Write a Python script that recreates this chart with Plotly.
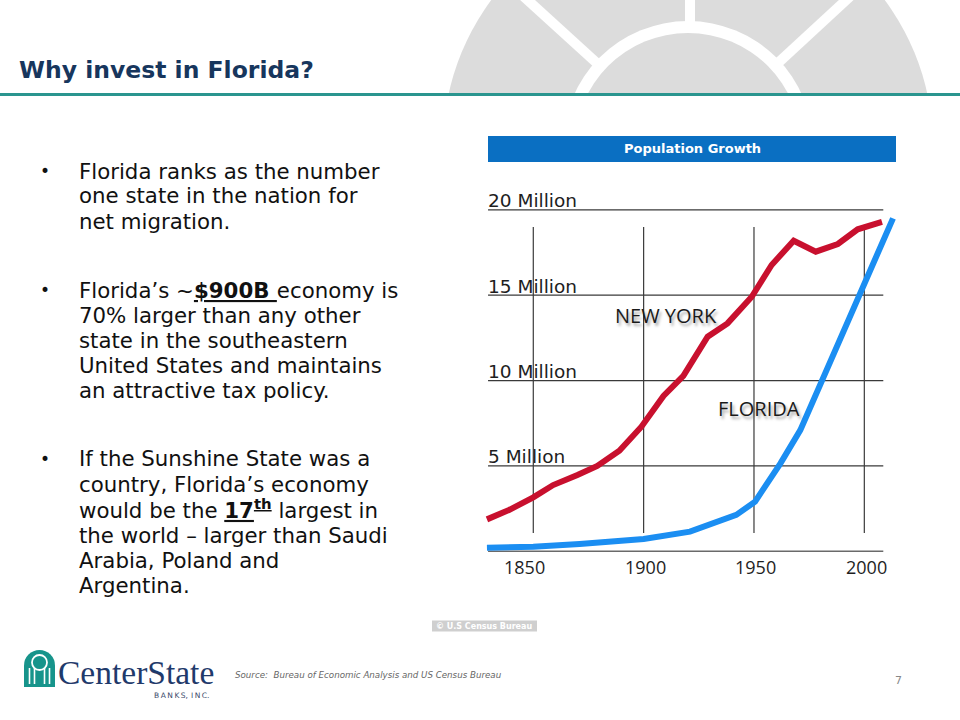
import math
import plotly.graph_objects as go

W, H = 960, 720


def X(px):
    return px / W


def Y(py):
    return 1 - py / H


# ---------------- data ----------------
NY_YEARS = [1829, 1839, 1850, 1859, 1870, 1879, 1889, 1899, 1909, 1918,
            1929, 1938, 1949, 1958, 1968, 1978, 1988, 1997, 2008]
NY_POP = [1.87, 2.42, 3.16, 3.88, 4.47, 5.00, 5.89, 7.30, 9.10, 10.28,
          12.57, 13.35, 14.91, 16.77, 18.19, 17.55, 18.00, 18.86, 19.30]

FL_YEARS = [1829, 1850, 1871, 1900, 1921, 1942, 1950.5, 1962, 1971, 2013]
FL_POP = [0.21, 0.27, 0.43, 0.72, 1.15, 2.13, 2.91, 5.15, 7.10, 19.50]

GRID_MILLIONS = [5, 10, 15, 20]
GRID_LABELS = ["5 Million", "10 Million", "15 Million", "20 Million"]
DECADE_TICKS = [1850, 1900, 1950, 2000]
DECADE_LABELS = ["1850", "1900", "1950", "2000"]

CHART_TITLE = "Population Growth"
SLIDE_TITLE = "Why invest in Florida?"
BULLETS = [
    ["Florida ranks as the number", "one state in the nation for", "net migration."],
    ["Florida\u2019s ~<b><u>$900B </u></b>economy is", "70% larger than any other",
     "state in the southeastern", "United States and maintains", "an attractive tax policy."],
    ["If the Sunshine State was a", "country, Florida\u2019s economy",
     "would be the <b><u>17<sup>th</sup></u></b> largest in",
     "the world \u2013 larger than Saudi", "Arabia, Poland and", "Argentina."],
]
BULLET_Y = [[171, 196, 221], [290, 315, 340, 365, 390], [459, 484, 509, 535, 560, 585]]

RED = "#c8102e"
BLUE = "#1b8ef2"
GREY_DECO = "#dcdcdc"
TEAL = "#2a958f"

# ---------------- figure ----------------
fig = go.Figure()
fig.add_trace(go.Scatter(x=NY_YEARS, y=NY_POP, mode="lines",
                         line=dict(color=RED, width=6), name="New York",
                         hoverinfo="skip"))
fig.add_trace(go.Scatter(x=FL_YEARS, y=FL_POP, mode="lines",
                         line=dict(color=BLUE, width=6), name="Florida",
                         hoverinfo="skip"))

shapes = []
annots = []

# --- sun decoration at top right ---
cx, cy = 688, 146


def circ(r, color):
    return dict(type="circle", xref="paper", yref="paper",
                x0=X(cx - r), x1=X(cx + r), y0=Y(cy + r), y1=Y(cy - r),
                fillcolor=color, line=dict(width=0), layer="below")


shapes.append(circ(245, GREY_DECO))
shapes.append(circ(125, "white"))
shapes.append(circ(113, GREY_DECO))
for ang in (90, 137.7, 42.7):
    ux, uy = math.cos(math.radians(ang)), -math.sin(math.radians(ang))
    off = 2 if ang == 90 else 0
    shapes.append(dict(type="line", xref="paper", yref="paper",
                       x0=X(cx + 118 * ux + off), y0=Y(cy + 118 * uy),
                       x1=X(cx + 300 * ux + off), y1=Y(cy + 300 * uy),
                       line=dict(color="white", width=10), layer="below"))
# white cover below the header line
shapes.append(dict(type="rect", xref="paper", yref="paper", x0=0, x1=1,
                   y0=0, y1=Y(93), fillcolor="white", line=dict(width=0), layer="below"))
# teal header rule
shapes.append(dict(type="rect", xref="paper", yref="paper", x0=0, x1=1,
                   y0=Y(96), y1=Y(93), fillcolor=TEAL, line=dict(width=0), layer="below"))

# --- chart banner ---
shapes.append(dict(type="rect", xref="paper", yref="paper", x0=X(488), x1=X(896),
                   y0=Y(162), y1=Y(136), fillcolor="#0a6fc2", line=dict(width=0),
                   layer="below"))
annots.append(dict(x=X(692), y=Y(149), xref="paper", yref="paper", text="<b>" + CHART_TITLE + "</b>",
                   showarrow=False, xanchor="center", yanchor="middle",
                   font=dict(family="DejaVu Sans", size=13, color="white")))

# --- chart grid ---
GX0, GX1 = 1829.5, 2008.6
for v in GRID_MILLIONS:
    shapes.append(dict(type="line", xref="x", yref="y", x0=GX0, x1=GX1, y0=v, y1=v,
                       line=dict(color="#3a3a3a", width=1.2), layer="below"))
shapes.append(dict(type="line", xref="x", yref="y", x0=GX0, x1=GX1, y0=0, y1=0,
                   line=dict(color="#6a6a6a", width=1.6), layer="below"))
for t in DECADE_TICKS:
    shapes.append(dict(type="line", xref="x", yref="y", x0=t, x1=t, y0=1.07, y1=19.0,
                       line=dict(color="#3a3a3a", width=1.2), layer="below"))

MIL_FONT = dict(family="DejaVu Sans", size=18.5, color="#1e1e1e")
YR_FONT = dict(family="Open Sans", size=18, color="#1e1e1e")
for v, lab in zip(GRID_MILLIONS, GRID_LABELS):
    annots.append(dict(x=X(486), y=v, xref="paper", yref="y", text=lab, showarrow=False,
                       xanchor="left", yanchor="middle", yshift=9, font=MIL_FONT))
for t, lab in zip(DECADE_TICKS, DECADE_LABELS):
    annots.append(dict(x=t, y=Y(567), xref="x", yref="paper", text=lab, showarrow=False,
                       xanchor="center", yanchor="middle",
                       xshift=-9 if t == 1850 else 2, font=YR_FONT))

SHADOW = "2px 3px 3px rgba(0,0,0,0.35)"
annots.append(dict(x=X(666), y=Y(315), xref="paper", yref="paper", text="NEW YORK",
                   showarrow=False, xanchor="center", yanchor="middle",
                   font=dict(family="Open Sans", size=20, color="#1a1a1a", shadow=SHADOW)))
annots.append(dict(x=X(759), y=Y(408), xref="paper", yref="paper", text="FLORIDA",
                   showarrow=False, xanchor="center", yanchor="middle",
                   font=dict(family="Open Sans", size=20, color="#1a1a1a", shadow=SHADOW)))

# credit label
shapes.append(dict(type="rect", xref="paper", yref="paper", x0=X(432), x1=X(537),
                   y0=Y(631.5), y1=Y(620.5), fillcolor="#cfcfcf", line=dict(width=0),
                   layer="below"))
annots.append(dict(x=X(484.5), y=Y(626), xref="paper", yref="paper",
                   text="<b>\u00a9 U.S Census Bureau</b>", showarrow=False,
                   xanchor="center", yanchor="middle",
                   font=dict(family="DejaVu Sans", size=8, color="white")))

# --- slide title ---
annots.append(dict(x=X(17), y=Y(70), xref="paper", yref="paper", text="<b>" + SLIDE_TITLE + "</b>",
                   showarrow=False, xanchor="left", yanchor="middle",
                   font=dict(family="DejaVu Sans", size=23.5, color="#17365d")))

# --- bullets ---
BFONT = dict(family="DejaVu Sans", size=21.3, color="#111111")
for lines, ys in zip(BULLETS, BULLET_Y):
    annots.append(dict(x=X(45), y=Y(ys[0]), xref="paper", yref="paper", text="\u2022",
                       showarrow=False, xanchor="center", yanchor="middle",
                       font=dict(family="DejaVu Sans", size=17, color="#111111")))
    for line, yy in zip(lines, ys):
        annots.append(dict(x=X(77), y=Y(yy), xref="paper", yref="paper", text=line,
                           showarrow=False, xanchor="left", yanchor="middle", font=BFONT))

# --- footer: logo ---
LOGO = "#17948b"
shapes.append(dict(type="circle", xref="paper", yref="paper", x0=X(24), x1=X(55),
                   y0=Y(681), y1=Y(650), fillcolor=LOGO, line=dict(width=0), layer="below"))
shapes.append(dict(type="rect", xref="paper", yref="paper", x0=X(24), x1=X(55),
                   y0=Y(687), y1=Y(666), fillcolor=LOGO, line=dict(width=0), layer="below"))
shapes.append(dict(type="circle", xref="paper", yref="paper", x0=X(32), x1=X(47),
                   y0=Y(670), y1=Y(655), fillcolor="rgba(0,0,0,0)",
                   line=dict(color="white", width=1.8), layer="below"))
for lx in (29.5, 34.5, 44.5, 49.5):
    shapes.append(dict(type="line", xref="paper", yref="paper", x0=X(lx), x1=X(lx),
                       y0=Y(684), y1=Y(668), line=dict(color="white", width=1.6), layer="below"))
annots.append(dict(x=X(56), y=Y(672), xref="paper", yref="paper", text="CenterState",
                   showarrow=False, xanchor="left", yanchor="middle",
                   font=dict(family="Liberation Serif", size=33.5, color="#1f3a6b")))
annots.append(dict(x=X(211), y=Y(695), xref="paper", yref="paper",
                   text="B\u2009A\u2009N\u2009K\u2009S,\u2009\u2009I\u2009N\u2009C.",
                   showarrow=False, xanchor="right", yanchor="middle",
                   font=dict(family="DejaVu Sans", size=7.5, color="#3a4a6a")))
annots.append(dict(x=X(233), y=Y(675), xref="paper", yref="paper",
                   text="<i>Source:  Bureau of Economic Analysis and US Census Bureau</i>",
                   showarrow=False, xanchor="left", yanchor="middle",
                   font=dict(family="DejaVu Sans", size=8.7, color="#666666")))
annots.append(dict(x=X(898), y=Y(680), xref="paper", yref="paper", text="7",
                   showarrow=False, xanchor="center", yanchor="middle",
                   font=dict(family="DejaVu Sans", size=11, color="#888888")))

fig.update_layout(
    width=W, height=H,
    margin=dict(l=0, r=0, t=0, b=0),
    paper_bgcolor="white", plot_bgcolor="rgba(0,0,0,0)",
    showlegend=False,
    shapes=shapes, annotations=annots,
    xaxis=dict(domain=[X(480), X(900)], range=[1825.85, 2016.17], visible=False,
               fixedrange=True),
    yaxis=dict(domain=[Y(570), Y(190)], range=[-1.095, 21.161], visible=False,
               fixedrange=True),
)

fig.write_html("out.html", config={"displayModeBar": False},
               post_script="document.body.style.margin='0px';document.body.style.padding='0px';")
